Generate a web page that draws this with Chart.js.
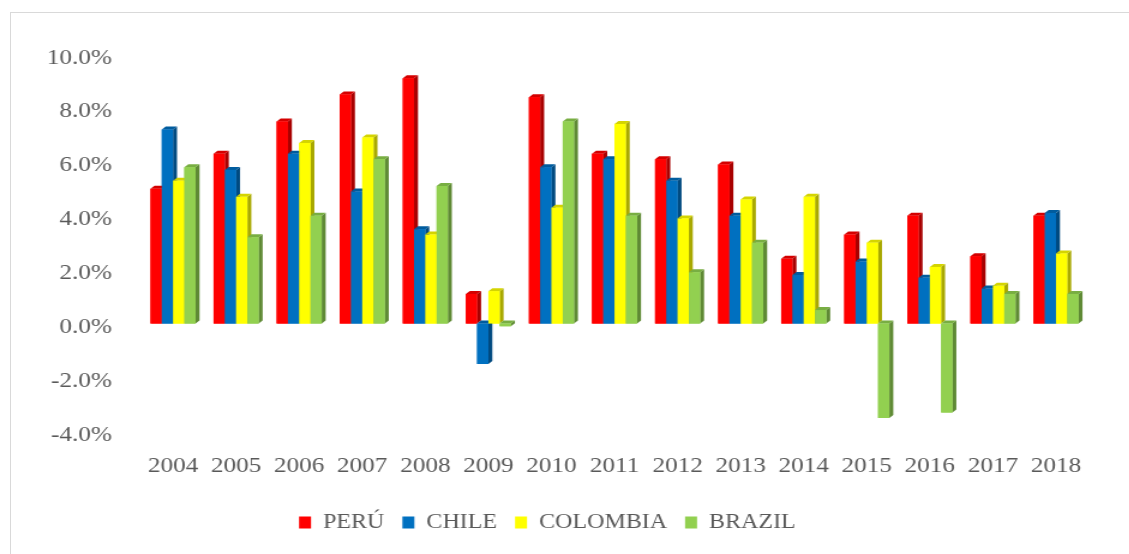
<!DOCTYPE html>
<html>
<head>
<meta charset="utf-8">
<script src="https://cdn.jsdelivr.net/npm/chart.js@4/dist/chart.umd.min.js"></script>
<style>
  html, body { margin: 0; padding: 0; background: #ffffff; overflow: hidden; width: 1129px; height: 554px; }
  #frame { position: absolute; left: 10px; top: 12px; width: 3000px; height: 3000px;
           border-left: 1px solid #D9D9D9; border-top: 1px solid #D9D9D9; }
  #wrap { position: absolute; left: 0; top: 0; width: 941px; height: 554px;
          transform: scaleX(1.2); transform-origin: 0 0; }
  #c { display: block; }
</style>
</head>
<body>
<div id="frame"></div>
<div id="wrap"><canvas id="c" width="941" height="554"></canvas></div>
<script>
const years = ['2004','2005','2006','2007','2008','2009','2010','2011','2012','2013','2014','2015','2016','2017','2018'];
const peru     = [5.0, 6.3, 7.5, 8.5, 9.1, 1.1, 8.4, 6.3, 6.1, 5.9, 2.4, 3.3, 4.0, 2.5, 4.0];
const chile    = [7.2, 5.7, 6.3, 4.9, 3.5, -1.5, 5.8, 6.1, 5.3, 4.0, 1.8, 2.3, 1.7, 1.3, 4.1];
const colombia = [5.3, 4.7, 6.7, 6.9, 3.3, 1.2, 4.3, 7.4, 3.9, 4.6, 4.7, 3.0, 2.1, 1.4, 2.6];
const brazil   = [5.8, 3.2, 4.0, 6.1, 5.1, -0.1, 7.5, 4.0, 1.9, 3.0, 0.5, -3.5, -3.3, 1.1, 1.1];
const seriesNames = ['PERÚ', 'CHILE', 'COLOMBIA', 'BRAZIL'];
const yTicks = [-4, -2, 0, 2, 4, 6, 8, 10];

const FRONT = ['#FF0000', '#0070C0', '#FFFF00', '#92D050'];
const SIDE  = ['#A80000', '#004A80', '#A8A800', '#5F8A35'];
const TOP   = ['#D40000', '#005C9E', '#D4D400', '#78AE42'];

const SERIF = "'Liberation Serif', 'Times New Roman', serif";
const AXIS_FONT = { family: SERIF, size: 21 };
const LEGEND_FONT = { family: SERIF, size: 20 };
const TXT = '#595959';

const bars3d = {
  id: 'bars3d',
  afterDatasetsDraw(chart) {
    const ctx = chart.ctx;
    const dx = 3.3, dy = 3;
    const n = chart.data.labels.length;
    ctx.save();
    for (let i = 0; i < n; i++) {
      chart.data.datasets.forEach((ds, di) => {
        const el = chart.getDatasetMeta(di).data[i];
        if (!el) return;
        const p = el.getProps(['x', 'y', 'base', 'width'], true);
        const l = p.x - p.width / 2, r = p.x + p.width / 2;
        const t = Math.min(p.y, p.base), b = Math.max(p.y, p.base);
        ctx.fillStyle = SIDE[di];
        ctx.beginPath();
        ctx.moveTo(r, t); ctx.lineTo(r + dx, t - dy); ctx.lineTo(r + dx, b - dy); ctx.lineTo(r, b);
        ctx.closePath(); ctx.fill();
        ctx.fillStyle = TOP[di];
        ctx.beginPath();
        ctx.moveTo(l, t); ctx.lineTo(l + dx, t - dy); ctx.lineTo(r + dx, t - dy); ctx.lineTo(r, t);
        ctx.closePath(); ctx.fill();
        ctx.fillStyle = FRONT[di];
        ctx.fillRect(l, t, r - l, b - t);
      });
    }
    ctx.restore();
  }
};

const values = [peru, chile, colombia, brazil];
const datasets = values.map((v, i) => ({
  label: seriesNames[i],
  data: v,
  backgroundColor: FRONT[i],
  borderWidth: 0,
  categoryPercentage: 0.715,
  barPercentage: 1.0
}));

new Chart(document.getElementById('c'), {
  type: 'bar',
  data: { labels: years, datasets },
  plugins: [bars3d],
  options: {
    responsive: false,
    devicePixelRatio: 1,
    animation: false,
    layout: { padding: { left: 6, right: 34.75, top: 54, bottom: 11.6 } },
    plugins: {
      tooltip: { enabled: false },
      legend: {
        position: 'bottom',
        labels: {
          font: LEGEND_FONT, color: TXT, boxWidth: 10, boxHeight: 12, padding: 15
        }
      }
    },
    scales: {
      x: {
        grid: { display: false, drawTicks: false },
        border: { display: false },
        ticks: { font: AXIS_FONT, color: TXT, padding: 22, maxRotation: 0 },
        afterFit: (axis) => { axis.height = 66; }
      },
      y: {
        min: -4, max: 10,
        afterBuildTicks: (axis) => { axis.ticks = yTicks.map(v => ({ value: v })); },
        afterFit: (axis) => { axis.width = 111.9; },
        grid: { display: false, drawTicks: false },
        border: { display: false },
        ticks: { font: AXIS_FONT, color: TXT, padding: 24.6, labelOffset: 4, callback: (v) => v.toFixed(1) + '%' }
      }
    }
  }
});
</script>
</body>
</html>
